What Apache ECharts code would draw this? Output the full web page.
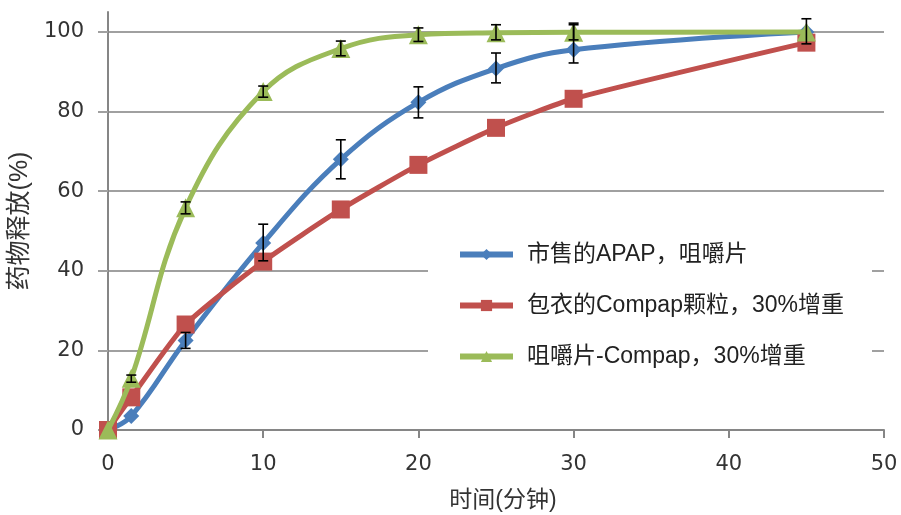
<!DOCTYPE html>
<html>
<head>
<meta charset="utf-8">
<script src="https://cdn.jsdelivr.net/npm/echarts@6/dist/echarts.min.js"></script>
<style>
html,body{margin:0;padding:0;background:#fff;}
#chart{width:901px;height:515px;}
</style>
</head>
<body>
<div id="chart"></div>
<script>
// ---- data ----
const timePoints = [0, 1.5, 5, 10, 15, 20, 25, 30, 45];
const seriesNames = ['市售的APAP，咀嚼片', '包衣的Compap颗粒，30%增重', '咀嚼片-Compap，30%增重'];
const apapValues   = [0, 3.5, 22.5, 47, 68, 82.3, 90.8, 95.5, 100];
const coatedValues = [0, 8.2, 26.5, 42.3, 55.4, 66.6, 75.9, 83.2, 97.3];
const chewValues   = [0, 13, 55.8, 85, 95.8, 99.3, 99.8, 99.9, 100];
// error bars: [time, low, high]
const apapErr = [[5, 20.5, 24.5], [10, 42.5, 51.7], [15, 63.1, 72.9], [20, 78.4, 86.2], [25, 87.2, 94.7], [30, 92.2, 102.2], [45, 97, 103.3]];
const chewErr = [[1.5, 12, 13.8], [5, 54.3, 57.3], [10, 83.6, 86.4], [15, 94, 97.7], [20, 97.6, 101], [25, 98, 101.8], [30, 98, 101.8]];
const xTicks = [0, 10, 20, 30, 40, 50];
const yTicks = [0, 20, 40, 60, 80, 100];
const xName = '时间(分钟)';
const yName = '药物释放(%)';

const colors = ['#4a7ebb', '#c0504d', '#9bbb59'];
const zip = (xs, ys) => xs.map((x, i) => [x, ys[i]]);

function errRender(params, api) {
  const x = api.value(0), lo = api.value(1), hi = api.value(2);
  const pLo = api.coord([x, lo]);
  const pHi = api.coord([x, hi]);
  const w = 5;
  const style = {stroke: '#000', lineWidth: 1.6, fill: null};
  return {
    type: 'group',
    children: [
      {type: 'line', shape: {x1: pLo[0], y1: pLo[1], x2: pHi[0], y2: pHi[1]}, style: style},
      {type: 'line', shape: {x1: pLo[0] - w, y1: pLo[1], x2: pLo[0] + w, y2: pLo[1]}, style: style},
      {type: 'line', shape: {x1: pHi[0] - w, y1: pHi[1], x2: pHi[0] + w, y2: pHi[1]}, style: style}
    ]
  };
}

const chart = echarts.init(document.getElementById('chart'), null, {renderer: 'canvas'});
const latinFont = 'DejaVu Sans';
const cjkFont = '"Liberation Sans", "Noto Sans CJK SC", sans-serif';

chart.setOption({
  animation: false,
  backgroundColor: '#fff',
  grid: {left: 108, right: 17, top: 12, bottom: 85, containLabel: false, outerBoundsMode: 'none'},
  xAxis: {
    type: 'value', min: xTicks[0], max: xTicks[xTicks.length - 1], interval: 10,
    name: xName, nameLocation: 'middle', nameGap: 59,
    nameTextStyle: {fontSize: 23, color: '#333', fontFamily: cjkFont, padding: [0, 0, 0, 14]},
    axisLine: {show: true, lineStyle: {color: '#868686', width: 2}},
    axisTick: {show: true, length: 8, lineStyle: {color: '#868686', width: 2}},
    axisLabel: {fontSize: 21, color: '#333', margin: 24, fontFamily: latinFont},
    splitLine: {show: false}
  },
  yAxis: {
    type: 'value', min: yTicks[0], max: 105, interval: 20,
    name: yName, nameLocation: 'middle', nameGap: 69, nameRotate: 90,
    nameTextStyle: {fontSize: 25, color: '#333', fontFamily: cjkFont},
    axisLine: {show: true, lineStyle: {color: '#868686', width: 2}},
    axisTick: {show: true, length: 10, lineStyle: {color: '#a0a0a0', width: 2}},
    axisLabel: {fontSize: 21, color: '#333', margin: 24, fontFamily: latinFont, showMaxLabel: false},
    splitLine: {show: true, showMaxLine: false, lineStyle: {color: '#a0a0a0', width: 2}}
  },
  graphic: [{
    type: 'rect', z: 1, silent: true,
    shape: {x: 428, y: 225, width: 444, height: 160},
    style: {fill: '#fff'}
  }],
  legend: {
    orient: 'vertical', left: 452, top: 238,
    itemWidth: 53, itemHeight: 14, itemGap: 28,
    lineStyle: {width: 6},
    textStyle: {fontSize: 23, color: '#222', fontFamily: cjkFont, padding: [0, 0, 0, 9]},
    data: seriesNames
  },
  series: [
    {
      name: seriesNames[0], type: 'line', data: zip(timePoints, apapValues),
      smooth: 0.4, symbol: 'diamond', symbolSize: 16,
      lineStyle: {color: colors[0], width: 5}, itemStyle: {color: colors[0]}, z: 3
    },
    {
      name: seriesNames[1], type: 'line', data: zip(timePoints, coatedValues),
      smooth: 0.2, symbol: 'rect', symbolSize: 18,
      lineStyle: {color: colors[1], width: 5}, itemStyle: {color: colors[1]}, z: 4
    },
    {
      name: seriesNames[2], type: 'line', data: zip(timePoints, chewValues),
      smooth: 0.4, symbol: 'triangle', symbolSize: 19,
      lineStyle: {color: colors[2], width: 5}, itemStyle: {color: colors[2]}, z: 5
    },
    {type: 'custom', renderItem: errRender, data: apapErr, z: 6, silent: true},
    {type: 'custom', renderItem: errRender, data: chewErr, z: 6, silent: true}
  ]
});
</script>
</body>
</html>
